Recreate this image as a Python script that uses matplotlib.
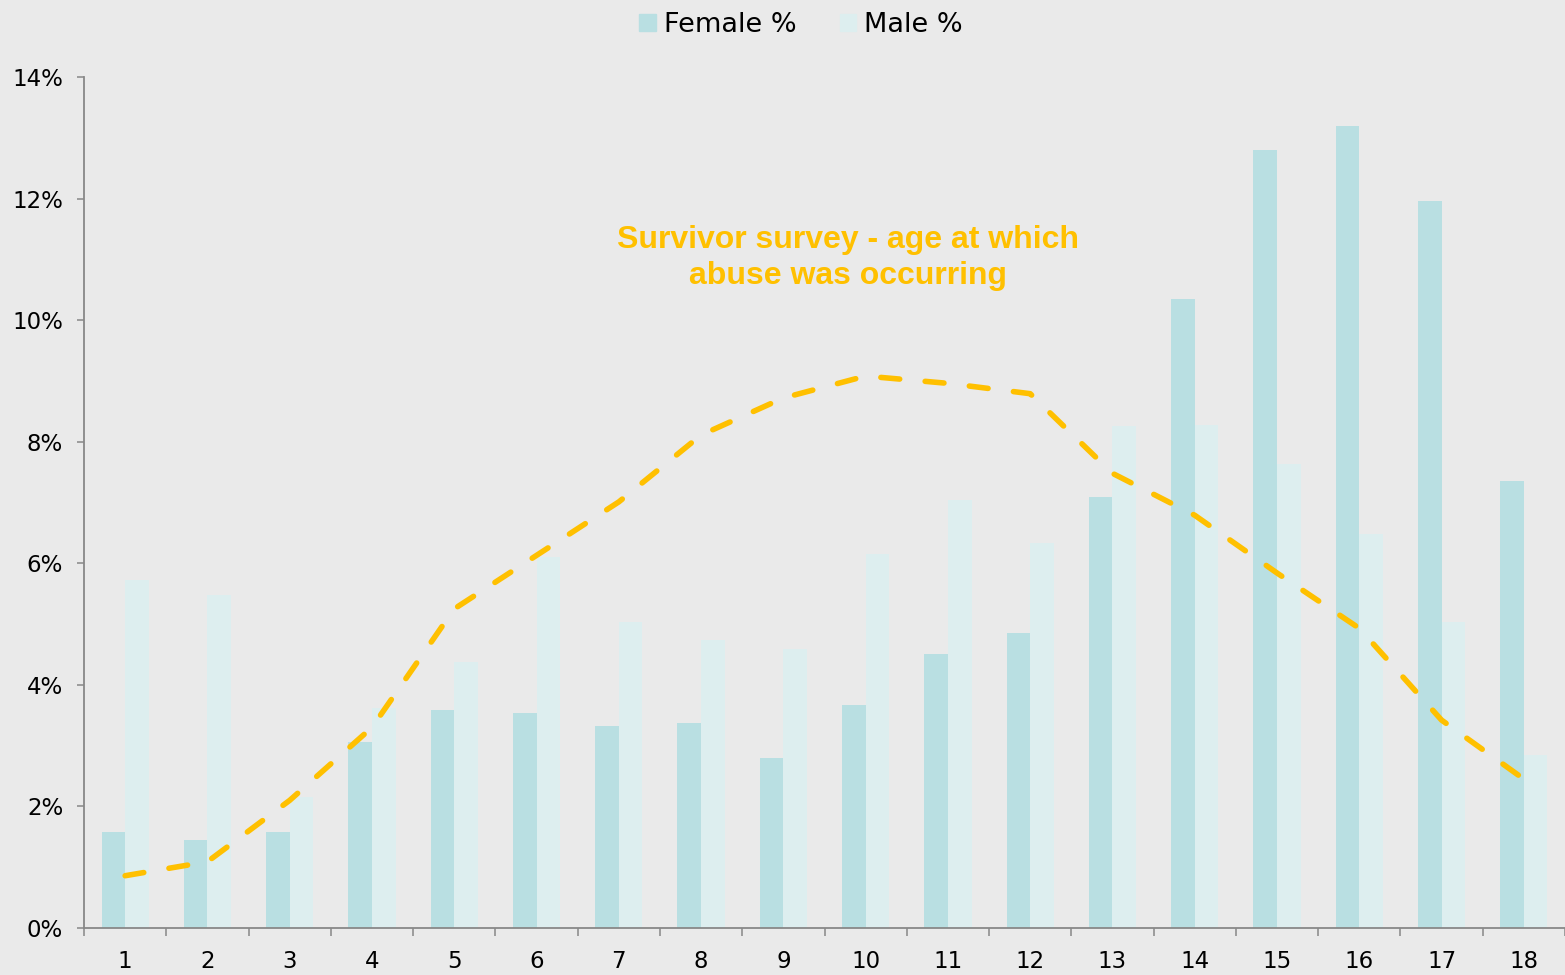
import numpy as np
import matplotlib.pyplot as plt
from matplotlib.patches import Patch

ages = [str(i) for i in range(1, 19)]
female = [1.58, 1.45, 1.58, 3.06, 3.59, 3.54, 3.32, 3.37, 2.80,
          3.67, 4.51, 4.86, 7.09, 10.34, 12.80, 13.19, 11.96, 7.36]
male = [5.72, 5.48, 2.15, 3.62, 4.37, 6.10, 5.03, 4.73, 4.59,
        6.16, 7.04, 6.34, 8.26, 8.27, 7.63, 6.48, 5.04, 2.84]
survey = [0.86, 1.09, 2.10, 3.30, 5.25, 6.13, 7.01, 8.11, 8.72,
          9.08, 8.96, 8.79, 7.48, 6.79, 5.84, 4.93, 3.42, 2.45]

bg = '#EAEAEA'
c_female = '#B9DFE2'
c_male = '#DDEEEF'
c_line = '#FFC000'
c_axis = '#888888'

fig = plt.figure(figsize=(15.65, 9.75), dpi=100, facecolor=bg)
ax = fig.add_axes([84 / 1565, 47 / 975, 1 - 84 / 1565, 851 / 975])
ax.set_facecolor(bg)

x = np.arange(len(ages))
w = 0.287
ax.bar(x - w / 2, female, width=w, color=c_female, zorder=2)
ax.bar(x + w / 2, male, width=w, color=c_male, zorder=2)
ax.plot(x, survey, color=c_line, lw=4, dashes=(3.4, 4.6),
        dash_capstyle='round', solid_capstyle='round', zorder=3)

ax.set_xlim(-0.5, len(ages) - 0.5)
ax.set_ylim(0, 14)
ax.set_yticks(np.arange(0, 15, 2))
ax.set_yticklabels([f'{v}%' for v in range(0, 15, 2)])
ax.set_xticks(x)
ax.set_xticklabels(ages)
ax.set_xticks(np.arange(-0.5, len(ages)), minor=True)

for s in ['top', 'right']:
    ax.spines[s].set_visible(False)
for s in ['left', 'bottom']:
    ax.spines[s].set_color(c_axis)
    ax.spines[s].set_linewidth(1.3)

ax.tick_params(axis='y', length=5, width=1.1, color=c_axis, pad=10,
               labelsize=16.5, labelcolor='black')
ax.tick_params(axis='x', which='major', length=0, pad=16,
               labelsize=16.5, labelcolor='black')
ax.tick_params(axis='x', which='minor', length=5.5, width=1.1, color=c_axis)

fig.text(848 / 1565, 1 - 258 / 975,
         'Survivor survey - age at which\nabuse was occurring',
         ha='center', va='center', multialignment='center',
         color=c_line, fontsize=23, fontweight='bold',
         family='Liberation Sans', linespacing=1.25)

handles = [Patch(color=c_female), Patch(color=c_male)]
fig.legend(handles, ['Female %', 'Male %'], loc='upper center',
           bbox_to_anchor=(801 / 1565, 1.013), ncol=2, frameon=False,
           fontsize=19.5, handlelength=0.6, handleheight=0.6,
           handletextpad=0.3, columnspacing=1.6)

fig.savefig('out.png', dpi=100, facecolor=bg)
